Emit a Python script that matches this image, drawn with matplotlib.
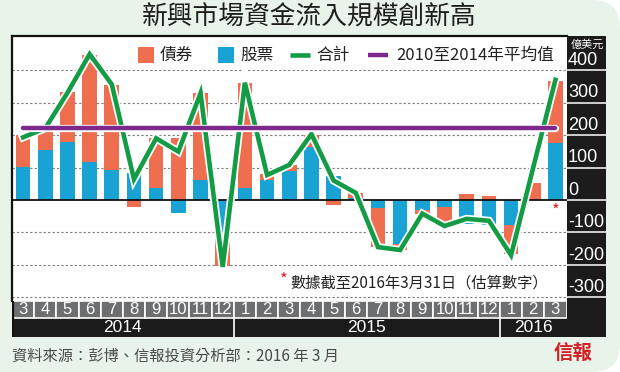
import matplotlib
matplotlib.use('Agg')
import matplotlib.pyplot as plt
from matplotlib import font_manager
from matplotlib.patches import FancyBboxPatch, Rectangle
import matplotlib.patheffects as pe
import numpy as np

# ---------------- data ----------------
months = ['3', '4', '5', '6', '7', '8', '9', '10', '11', '12',
          '1', '2', '3', '4', '5', '6', '7', '8', '9', '10', '11', '12',
          '1', '2', '3']
years = ['2014', '2015', '2016']
year_lengths = [10, 12, 3]
bonds = [98, 63, 153, 330, 262, -22, 152, 190, 266, -82, 323, 18, 18, 36,
         -15, 17, -118, -20, -12, -57, 17, 12, -90, 52, 191]
equities = [102, 154, 180, 116, 92, 84, 38, -41, 62, -122, 36, 62, 90, 164,
            74, 5, -26, -134, -30, -22, -75, -77, -77, 0, 176]
total = [193, 221, 330, 449, 356, 64, 190, 149, 329, -206, 361, 77, 108, 203,
         60, 22, -145, -154, -42, -80, -58, -64, -170, 100, 370]
avg_2010_2014 = 223
yticks = [400, 300, 200, 100, 0, -100, -200, -300]

title = '新興市場資金流入規模創新高'
legend_labels = ['債券', '股票', '合計', '2010至2014年平均值']
note = '數據截至2016年3月31日（估算數字）'
source = '資料來源：彭博、信報投資分析部：2016 年 3 月'
unit = '億美元'

# ---------------- style ----------------
ORANGE = '#f06e50'
BLUE = '#19a2d4'
GREEN = '#149b46'
PURPLE = '#7d288c'
GRAY = '#6d6e70'
BG = '#e8f4ea'
DARK = '#1b1b1b'

names = {f.name for f in font_manager.fontManager.ttflist}
ARIAL = 'Liberation Sans' if 'Liberation Sans' in names else 'DejaVu Sans'
CJK = ['Noto Sans CJK TC', 'DejaVu Sans']
plt.rcParams['font.family'] = CJK

W, H = 620, 372
fig = plt.figure(figsize=(W / 100, H / 100), dpi=100)
fig.patch.set_facecolor('white')


def rect(l, t, r, b):
    return [l / W, 1 - b / H, (r - l) / W, (b - t) / H]


def Y(y):
    return H - y


# background
bg = fig.add_axes([0, 0, 1, 1], zorder=0)
bg.set_xlim(0, W)
bg.set_ylim(0, H)
bg.axis('off')
bg.add_patch(FancyBboxPatch((-40, 0), W + 40, H,
                            boxstyle='round,pad=0,rounding_size=28',
                            fc=BG, ec='none'))
bg.add_patch(Rectangle((566.5, Y(337)), 39.5, 301, fc=DARK, ec='none'))

# ---------------- main axes ----------------
ax = fig.add_axes(rect(12, 36, 566.5, 301), zorder=2)
ax.set_facecolor('white')
x = np.arange(len(months))
eq = np.array(equities)
bd = np.array(bonds)
bond_bottom = np.where(np.sign(bd) == np.sign(eq), eq, 0)
ax.bar(x, eq, width=0.66, color=BLUE, zorder=2)
ax.bar(x, bd, bottom=bond_bottom, width=0.66, color=ORANGE, zorder=2)
for v in yticks:
    if v != 0:
        ax.axhline(v, color='#7a7a7a', lw=0.8, ls=(0, (2, 2)), zorder=1)
ax.axhline(0, color='#111', lw=1.3, zorder=3)
ax.plot(x, total, color=GREEN, lw=3.3, zorder=5, solid_joinstyle='miter',
        path_effects=[pe.Stroke(linewidth=5.8, foreground='white'), pe.Normal()])
ax.plot([x[0], x[-1]], [avg_2010_2014] * 2, color=PURPLE, lw=3.2, zorder=6,
        solid_capstyle='round',
        path_effects=[pe.Stroke(linewidth=5.2, foreground='white'), pe.Normal()])
ax.text(x[-1], -8, '*', color='#e0262a', fontsize=12, ha='center', va='top', zorder=7)
ax.set_xlim(-0.5, len(months) - 0.5)
ax.set_ylim(-311, 505)
ax.set_xticks([])
ax.set_yticks([])
for s in ['right', 'bottom']:
    ax.spines[s].set_visible(False)
for s in ['left', 'top']:
    ax.spines[s].set_color('#111')
    ax.spines[s].set_linewidth(1.6)

# ---------------- month / year strip ----------------
sx = fig.add_axes(rect(12, 301, 566.5, 337), zorder=2)
sx.set_xlim(-0.5, len(months) - 0.5)
sx.set_ylim(0, 36)
sx.axis('off')
sx.add_patch(Rectangle((-0.5, 0), len(months), 19, fc=DARK, ec='none'))
for i, m in enumerate(months):
    sx.add_patch(Rectangle((i - 0.5, 19), 1, 17, fc=GRAY, ec='white', lw=1.2))
    sx.text(i, 27.3, m, ha='center', va='center', color='white', fontsize=12,
            family=ARIAL)
start = 0
for yr, n in zip(years, year_lengths):
    sx.text(start + (n - 1) / 2, 9.3, yr, ha='center', va='center',
            color='white', fontsize=12.5, family=ARIAL)
    if start > 0:
        sx.plot([start - 0.5, start - 0.5], [0, 19], color='white', lw=1.2)
    start += n
sx.plot([-0.5, -0.5], [0, 36], color='#111', lw=3)

# ---------------- right tick panel ----------------
rp = fig.add_axes(rect(566.5, 36, 606, 301), zorder=2)
rp.set_facecolor(DARK)
rp.set_xlim(0, 1)
rp.set_ylim(-311, 505)
rp.set_xticks([])
rp.set_yticks([])
for s in rp.spines.values():
    s.set_visible(False)
for t in yticks:
    rp.plot([0.0, 1.0], [t, t], color='white', lw=1.1)
    rp.text(0.04, t + 4, str(t), color='white', fontsize=13, family=ARIAL,
            ha='left', va='bottom')

# ---------------- overlay: titles, legend, notes ----------------
fg = fig.add_axes([0, 0, 1, 1], zorder=10)
fg.set_xlim(0, W)
fg.set_ylim(0, H)
fg.axis('off')

fg.text(309, Y(18), title, ha='center', va='center', fontsize=18.5,
        color='#1e1e1e', fontweight='medium')

sq = 16
fg.add_patch(Rectangle((138, Y(63)), sq, sq, fc=ORANGE, ec='none'))
fg.text(160, Y(55), legend_labels[0], fontsize=12, va='center', color='#222')
fg.add_patch(Rectangle((218, Y(63)), sq, sq, fc=BLUE, ec='none'))
fg.text(240, Y(55), legend_labels[1], fontsize=12, va='center', color='#222')
fg.plot([290, 310], [Y(55), Y(55)], color=GREEN, lw=3.3, solid_capstyle='butt')
fg.text(316, Y(55), legend_labels[2], fontsize=12, va='center', color='#222')
fg.plot([368, 388], [Y(55), Y(55)], color=PURPLE, lw=3.2, solid_capstyle='butt')
fg.text(396, Y(55), legend_labels[3], fontsize=12, va='center', color='#222')

fg.text(587, Y(45), unit, ha='center', va='center', fontsize=8, color='white')

fg.text(284, Y(280), '*', color='#e0262a', fontsize=12, ha='center', va='center')
fg.text(290, Y(283), note, fontsize=11, va='center', color='#222')

fg.text(12, Y(356), source, fontsize=11, va='center', color='#4a4a4a')
fg.text(573, Y(354), '信報', fontsize=14, fontweight='bold', color='#d21f26',
        ha='center', va='center')

fig.savefig('out.png', dpi=100, facecolor=fig.get_facecolor())
